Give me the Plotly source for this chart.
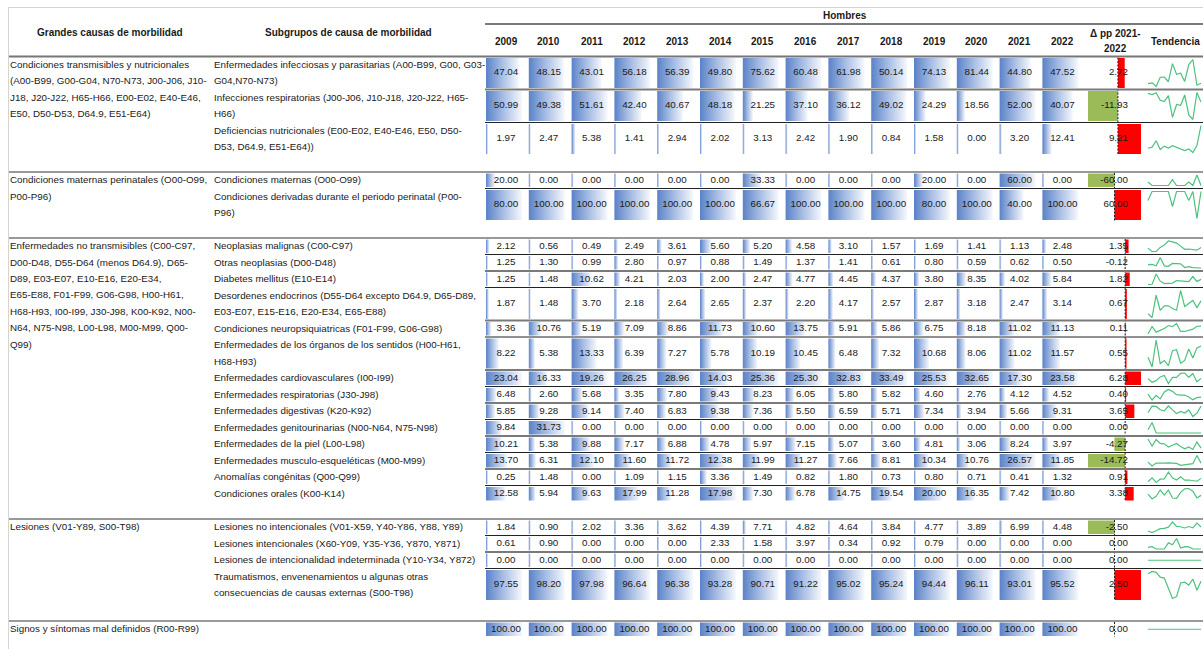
import plotly.graph_objects as go

# ---- data ----
years = [str(y) for y in range(2009, 2023)]

grandes_causas = [
    "Condiciones transmisibles y nutricionales\n(A00-B99, G00-G04, N70-N73, J00-J06, J10-\nJ18, J20-J22, H65-H66, E00-E02, E40-E46,\nE50, D50-D53, D64.9, E51-E64)",
    "Condiciones maternas perinatales (O00-O99,\nP00-P96)",
    "Enfermedades no transmisibles (C00-C97,\nD00-D48, D55-D64 (menos D64.9), D65-\nD89, E03-E07, E10-E16, E20-E34,\nE65-E88, F01-F99, G06-G98, H00-H61,\nH68-H93, I00-I99, J30-J98, K00-K92, N00-\nN64, N75-N98, L00-L98, M00-M99, Q00-\nQ99)",
    "Lesiones (V01-Y89, S00-T98)",
    "Signos y síntomas mal definidos (R00-R99)",
]

subgrupos = [
    "Enfermedades infecciosas y parasitarias (A00-B99, G00, G03-\nG04,N70-N73)",
    "Infecciones respiratorias (J00-J06, J10-J18, J20-J22, H65-\nH66)",
    "Deficiencias nutricionales (E00-E02, E40-E46, E50, D50-\nD53, D64.9, E51-E64))",
    "Condiciones maternas (O00-O99)",
    "Condiciones derivadas durante el periodo perinatal (P00-\nP96)",
    "Neoplasias malignas (C00-C97)",
    "Otras neoplasias (D00-D48)",
    "Diabetes mellitus (E10-E14)",
    "Desordenes endocrinos (D55-D64 excepto D64.9, D65-D89,\nE03-E07, E15-E16, E20-E34, E65-E88)",
    "Condiciones neuropsiquiatricas (F01-F99, G06-G98)",
    "Enfermedades de los órganos de los sentidos (H00-H61,\nH68-H93)",
    "Enfermedades cardiovasculares (I00-I99)",
    "Enfermedades respiratorias (J30-J98)",
    "Enfermedades digestivas (K20-K92)",
    "Enfermedades genitourinarias (N00-N64, N75-N98)",
    "Enfermedades de la piel (L00-L98)",
    "Enfermedades musculo-esqueléticas (M00-M99)",
    "Anomalías congénitas (Q00-Q99)",
    "Condiciones orales (K00-K14)",
    "Lesiones no intencionales (V01-X59, Y40-Y86, Y88, Y89)",
    "Lesiones intencionales (X60-Y09, Y35-Y36, Y870, Y871)",
    "Lesiones de intencionalidad indeterminada (Y10-Y34, Y872)",
    "Traumatismos, envenenamientos u algunas otras\nconsecuencias de causas externas (S00-T98)",
    "",
]

grupo_de_fila = [0, 0, 0, 1, 1, 2, 2, 2, 2, 2, 2, 2, 2, 2, 2, 2, 2, 2, 2, 3, 3, 3, 3, 4]

valores = [
    [47.04, 48.15, 43.01, 56.18, 56.39, 49.80, 75.62, 60.48, 61.98, 50.14, 74.13, 81.44, 44.80, 47.52],
    [50.99, 49.38, 51.61, 42.40, 40.67, 48.18, 21.25, 37.10, 36.12, 49.02, 24.29, 18.56, 52.00, 40.07],
    [1.97, 2.47, 5.38, 1.41, 2.94, 2.02, 3.13, 2.42, 1.90, 0.84, 1.58, 0.00, 3.20, 12.41],
    [20.00, 0.00, 0.00, 0.00, 0.00, 0.00, 33.33, 0.00, 0.00, 0.00, 20.00, 0.00, 60.00, 0.00],
    [80.00, 100.00, 100.00, 100.00, 100.00, 100.00, 66.67, 100.00, 100.00, 100.00, 80.00, 100.00, 40.00, 100.00],
    [2.12, 0.56, 0.49, 2.49, 3.61, 5.60, 5.20, 4.58, 3.10, 1.57, 1.69, 1.41, 1.13, 2.48],
    [1.25, 1.30, 0.99, 2.80, 0.97, 0.88, 1.49, 1.37, 1.41, 0.61, 0.80, 0.59, 0.62, 0.50],
    [1.25, 1.48, 10.62, 4.21, 2.03, 2.00, 2.47, 4.77, 4.45, 4.37, 3.80, 8.35, 4.02, 5.84],
    [1.87, 1.48, 3.70, 2.18, 2.64, 2.65, 2.37, 2.20, 4.17, 2.57, 2.87, 3.18, 2.47, 3.14],
    [3.36, 10.76, 5.19, 7.09, 8.86, 11.73, 10.60, 13.75, 5.91, 5.86, 6.75, 8.18, 11.02, 11.13],
    [8.22, 5.38, 13.33, 6.39, 7.27, 5.78, 10.19, 10.45, 6.48, 7.32, 10.68, 8.06, 11.02, 11.57],
    [23.04, 16.33, 19.26, 26.25, 28.96, 14.03, 25.36, 25.30, 32.83, 33.49, 25.53, 32.65, 17.30, 23.58],
    [6.48, 2.60, 5.68, 3.35, 7.80, 9.43, 8.23, 6.05, 5.80, 5.82, 4.60, 2.76, 4.12, 4.52],
    [5.85, 9.28, 9.14, 7.40, 6.83, 9.38, 7.36, 5.50, 6.59, 5.71, 7.34, 3.94, 5.66, 9.31],
    [9.84, 31.73, 0.00, 0.00, 0.00, 0.00, 0.00, 0.00, 0.00, 0.00, 0.00, 0.00, 0.00, 0.00],
    [10.21, 5.38, 9.88, 7.17, 6.88, 4.78, 5.97, 7.15, 5.07, 3.60, 4.81, 3.06, 8.24, 3.97],
    [13.70, 6.31, 12.10, 11.60, 11.72, 12.38, 11.99, 11.27, 7.66, 8.81, 10.34, 10.76, 26.57, 11.85],
    [0.25, 1.48, 0.00, 1.09, 1.15, 3.36, 1.49, 0.82, 1.80, 0.73, 0.80, 0.71, 0.41, 1.32],
    [12.58, 5.94, 9.63, 17.99, 11.28, 17.98, 7.30, 6.78, 14.75, 19.54, 20.00, 16.35, 7.42, 10.80],
    [1.84, 0.90, 2.02, 3.36, 3.62, 4.39, 7.71, 4.82, 4.64, 3.84, 4.77, 3.89, 6.99, 4.48],
    [0.61, 0.90, 0.00, 0.00, 0.00, 2.33, 1.58, 3.97, 0.34, 0.92, 0.79, 0.00, 0.00, 0.00],
    [0.00, 0.00, 0.00, 0.00, 0.00, 0.00, 0.00, 0.00, 0.00, 0.00, 0.00, 0.00, 0.00, 0.00],
    [97.55, 98.20, 97.98, 96.64, 96.38, 93.28, 90.71, 91.22, 95.02, 95.24, 94.44, 96.11, 93.01, 95.52],
    [100.00] * 14,
]

delta_pp = [2.72, -11.93, 9.21, -60.00, 60.00, 1.35, -0.12, 1.82, 0.67, 0.11, 0.55, 6.28,
            0.40, 3.65, 0.00, -4.27, -14.72, 0.91, 3.38, -2.50, 0.00, 0.00, 2.50, 0.00]

# ---- layout constants ----
W, H = 1203, 649
FONT = "Liberation Sans, Arial, sans-serif"
FS = 9.8
TXT = "#1a1a1a"
GROUP_TOPS = [56.5, 172, 238, 519, 621]
LINE_H = 16.5
COL0, PITCH, BAR_FULL = 506, 42.8, 36
DX0, DX1 = 1088, 1141          # delta data-bar cell
SPX0, SPX1 = 1148, 1201        # sparkline cell
BAR_SCALE = [[0, "#5a82c8"], [0.5, "#abc0e5"], [1, "#f6f8fc"]]

col_centers = [COL0 + PITCH * i for i in range(len(years))]

# row geometry
tops, bots = [], []
prev_g = None
y = None
for i, lab in enumerate(subgrupos):
    g = grupo_de_fila[i]
    if g != prev_g:
        y = GROUP_TOPS[g]
        prev_g = g
    h = LINE_H * (lab.count("\n") + 1)
    tops.append(y)
    bots.append(y + h)
    y += h

fig = go.Figure()
shapes = []

# per group, per column max for data bars
n_groups = len(grandes_causas)
col_max = {}
for g in range(n_groups):
    rows = [i for i in range(len(subgrupos)) if grupo_de_fila[i] == g]
    col_max[g] = [max(valores[r][j] for r in rows) for j in range(len(years))]

# year data bars (gradient)
for i, row in enumerate(valores):
    g = grupo_de_fila[i]
    t, b = tops[i] + 1.5, bots[i] - 1.5
    for j, v in enumerate(row):
        mx = col_max[g][j]
        L = max(2, v / mx * BAR_FULL) if mx > 0 else 2
        x0 = col_centers[j] - 20
        fig.add_trace(go.Scatter(
            x=[x0, x0 + L, x0 + L, x0, x0], y=[t, t, b, b, t],
            fill="toself", mode="none",
            fillgradient=dict(type="horizontal", colorscale=BAR_SCALE, start=x0, stop=x0 + L),
            hoverinfo="skip", showlegend=False))

# delta bars + zero axis per group
for g in range(n_groups):
    rows = [i for i in range(len(subgrupos)) if grupo_de_fila[i] == g]
    vals = [delta_pp[r] for r in rows]
    lo, hi = min(min(vals), 0), max(max(vals), 0)
    span = hi - lo
    zero = DX0 + (DX1 - DX0) * (-lo / span) if span > 0 else (DX0 + DX1) / 2
    for r in rows:
        v = delta_pp[r]
        if v != 0 and span > 0:
            L = (DX1 - DX0) * v / span
            shapes.append(dict(type="rect", xref="x", yref="y", layer="below",
                               x0=zero, x1=zero + L, y0=tops[r] + 1.5, y1=bots[r] - 1.5,
                               fillcolor="#ff0000" if v > 0 else "#9bbb59", line=dict(width=0)))
    shapes.append(dict(type="line", xref="x", yref="y", x0=zero, x1=zero,
                       y0=tops[rows[0]] + 1, y1=bots[rows[-1]] - 1,
                       line=dict(color="#222", width=1, dash="2px,1.5px")))

# row separator lines inside groups
for i in range(len(subgrupos) - 1):
    if grupo_de_fila[i] == grupo_de_fila[i + 1]:
        dark = i % 2 == 1
        shapes.append(dict(type="line", xref="x", yref="y", x0=485, x1=W, y0=bots[i], y1=bots[i],
                           line=dict(color="#222" if dark else "#7a7a7a", width=1 if dark else 2)))

# group top lines / header lines / border
for gt in GROUP_TOPS:
    shapes.append(dict(type="line", xref="x", yref="y", x0=8, x1=W, y0=gt, y1=gt,
                       line=dict(color="#777", width=2 if gt == GROUP_TOPS[0] else 1.5)))
shapes.append(dict(type="line", xref="x", yref="y", x0=8, x1=W, y0=7.5, y1=7.5, line=dict(color="#d4d4d4", width=1)))
shapes.append(dict(type="line", xref="x", yref="y", x0=8.5, x1=8.5, y0=7, y1=H, line=dict(color="#d4d4d4", width=1)))
shapes.append(dict(type="line", xref="x", yref="y", x0=485, x1=W, y0=24, y1=24, line=dict(color="#7a7a7a", width=2)))

# sparklines
sx, sy = [], []
for i, row in enumerate(valores):
    lo, hi = min(row), max(row)
    t, b = tops[i] + 3, bots[i] - 3
    for j, v in enumerate(row):
        sx.append(SPX0 + (SPX1 - SPX0) * j / (len(row) - 1))
        sy.append((t + b) / 2 if hi == lo else b - (b - t) * (v - lo) / (hi - lo))
    sx.append(None)
    sy.append(None)
fig.add_trace(go.Scatter(x=sx, y=sy, mode="lines", line=dict(color="#4cc27e", width=1.2),
                         hoverinfo="skip", showlegend=False))

# cell values text
tx, ty, tt = [], [], []
for i, row in enumerate(valores):
    for j, v in enumerate(row):
        tx.append(col_centers[j])
        ty.append((tops[i] + bots[i]) / 2)
        tt.append(f"{v:.2f}")
fig.add_trace(go.Scatter(x=tx, y=ty, text=tt, mode="text", textposition="middle center",
                         textfont=dict(family=FONT, size=FS, color=TXT), hoverinfo="skip", showlegend=False))

# delta text
fig.add_trace(go.Scatter(x=[1128] * len(delta_pp), y=[(t + b) / 2 for t, b in zip(tops, bots)],
                         text=[f"{v:.2f}" for v in delta_pp], mode="text", textposition="middle left",
                         textfont=dict(family=FONT, size=FS, color=TXT), hoverinfo="skip", showlegend=False))

# label text (group + subgroup), one line at a time
lx, ly, lt = [], [], []
for g, lab in enumerate(grandes_causas):
    for k, line in enumerate(lab.split("\n")):
        lx.append(10)
        ly.append(GROUP_TOPS[g] + 8.8 + k * 16.4)
        lt.append(line)
for i, lab in enumerate(subgrupos):
    for k, line in enumerate(lab.split("\n")):
        lx.append(214)
        ly.append(tops[i] + 8.8 + k * 16.4)
        lt.append(line)
fig.add_trace(go.Scatter(x=lx, y=ly, text=lt, mode="text", textposition="middle right",
                         textfont=dict(family=FONT, size=FS, color=TXT), hoverinfo="skip", showlegend=False))

# headers
bold = dict(family=FONT, size=10, color=TXT)
ann = [
    dict(x=110, y=32, text="<b>Grandes causas de morbilidad</b>"),
    dict(x=348, y=32, text="<b>Subgrupos de causa de morbilidad</b>"),
    dict(x=845, y=15, text="<b>Hombres</b>"),
    dict(x=1115, y=33, text="<b>Δ pp 2021-</b>"),
    dict(x=1115, y=48, text="<b>2022</b>"),
    dict(x=1175, y=41, text="<b>Tendencia</b>"),
]
for j, yr in enumerate(years):
    ann.append(dict(x=col_centers[j], y=41, text=f"<b>{yr}</b>"))
for a in ann:
    a.update(xref="x", yref="y", showarrow=False, font=bold, xanchor="center", yanchor="middle")

fig.update_layout(
    width=W, height=H, margin=dict(l=0, r=0, t=0, b=0),
    paper_bgcolor="white", plot_bgcolor="white",
    xaxis=dict(range=[0, W], visible=False, fixedrange=True),
    yaxis=dict(range=[H, 0], visible=False, fixedrange=True),
    shapes=shapes, annotations=ann, showlegend=False,
)

# drop the default page margin so the 1203x649 figure fills the window exactly
fig.write_html("out.html", config={"displayModeBar": False},
               post_script="document.body.style.margin='0';document.body.style.overflow='hidden';")
